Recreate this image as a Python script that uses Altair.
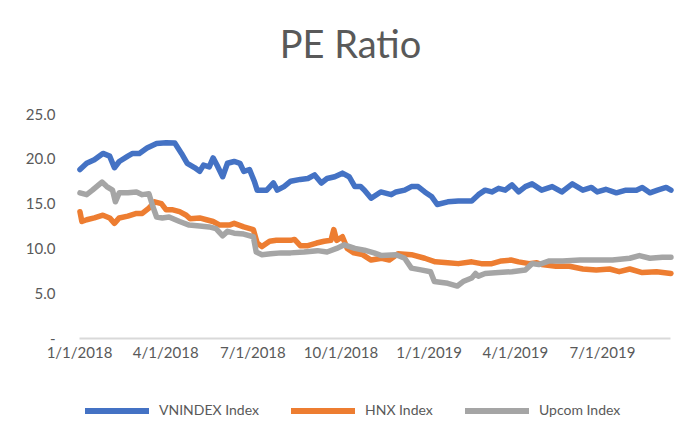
import altair as alt
import pandas as pd

series_names = ["VNINDEX Index", "HNX Index", "Upcom Index"]
series_colors = ["#4472C4", "#ED7D31", "#A5A5A5"]

vn_dates = ["2018-01-02","2018-01-09","2018-01-17","2018-01-26","2018-02-02","2018-02-07","2018-02-12","2018-02-21","2018-02-26","2018-03-05","2018-03-13","2018-03-23","2018-04-02","2018-04-11","2018-04-18","2018-04-24","2018-05-02","2018-05-07","2018-05-11","2018-05-17","2018-05-21","2018-05-25","2018-05-31","2018-06-05","2018-06-12","2018-06-18","2018-06-22","2018-06-28","2018-07-03","2018-07-06","2018-07-16","2018-07-23","2018-07-27","2018-08-03","2018-08-10","2018-08-20","2018-08-28","2018-09-04","2018-09-11","2018-09-17","2018-09-25","2018-10-03","2018-10-10","2018-10-16","2018-10-22","2018-10-26","2018-11-02","2018-11-12","2018-11-23","2018-11-28","2018-12-07","2018-12-14","2018-12-21","2018-12-28","2019-01-04","2019-01-10","2019-01-21","2019-02-01","2019-02-15","2019-02-22","2019-03-01","2019-03-08","2019-03-15","2019-03-22","2019-03-29","2019-04-05","2019-04-12","2019-04-19","2019-04-29","2019-05-10","2019-05-20","2019-05-31","2019-06-11","2019-06-20","2019-06-26","2019-07-05","2019-07-16","2019-07-26","2019-08-06","2019-08-12","2019-08-20","2019-08-28","2019-09-06","2019-09-11"]
vn_values = [18.8,19.5,19.9,20.6,20.3,19.0,19.7,20.3,20.6,20.6,21.2,21.7,21.8,21.75,20.6,19.5,19.0,18.6,19.3,19.1,20.1,19.3,18.0,19.5,19.7,19.5,18.6,18.8,17.5,16.5,16.5,17.3,16.5,16.9,17.5,17.7,17.8,18.2,17.3,17.8,18.0,18.4,18.0,16.9,16.9,16.5,15.6,16.3,16.0,16.3,16.5,16.9,16.9,16.3,15.8,14.9,15.2,15.3,15.3,16.0,16.5,16.3,16.7,16.5,17.1,16.3,16.9,17.2,16.5,16.9,16.3,17.2,16.5,16.8,16.3,16.6,16.2,16.5,16.5,16.8,16.2,16.5,16.8,16.5]

hnx_dates = ["2018-01-02","2018-01-04","2018-01-09","2018-01-17","2018-01-26","2018-02-02","2018-02-07","2018-02-12","2018-02-21","2018-03-02","2018-03-08","2018-03-15","2018-03-21","2018-03-28","2018-04-02","2018-04-09","2018-04-16","2018-04-23","2018-04-27","2018-05-07","2018-05-14","2018-05-21","2018-05-28","2018-06-01","2018-06-07","2018-06-12","2018-06-22","2018-07-02","2018-07-06","2018-07-11","2018-07-19","2018-07-26","2018-08-02","2018-08-10","2018-08-14","2018-08-20","2018-08-28","2018-09-06","2018-09-14","2018-09-21","2018-09-24","2018-09-27","2018-10-03","2018-10-08","2018-10-15","2018-10-24","2018-11-02","2018-11-13","2018-11-21","2018-11-30","2018-12-14","2018-12-28","2019-01-08","2019-01-21","2019-02-01","2019-02-15","2019-02-25","2019-03-08","2019-03-18","2019-03-28","2019-04-05","2019-04-16","2019-04-24","2019-04-29","2019-05-14","2019-05-28","2019-06-11","2019-06-25","2019-07-09","2019-07-19","2019-07-30","2019-08-12","2019-08-27","2019-09-11"]
hnx_values = [14.1,13.0,13.2,13.4,13.7,13.4,12.8,13.4,13.6,13.9,13.9,14.5,15.2,15.0,14.3,14.3,14.1,13.7,13.3,13.4,13.2,13.0,12.6,12.6,12.6,12.8,12.4,12.1,10.6,10.2,10.8,10.9,10.9,10.9,11.0,10.3,10.3,10.6,10.8,10.9,12.1,10.9,11.3,10.0,9.5,9.3,8.7,8.9,8.7,9.4,9.3,8.9,8.5,8.4,8.3,8.5,8.3,8.3,8.6,8.7,8.5,8.3,8.4,8.2,8.0,8.0,7.7,7.6,7.7,7.4,7.7,7.3,7.4,7.2]

up_dates = ["2018-01-02","2018-01-09","2018-01-15","2018-01-25","2018-01-30","2018-02-05","2018-02-08","2018-02-12","2018-02-21","2018-03-02","2018-03-08","2018-03-15","2018-03-19","2018-03-23","2018-03-29","2018-04-05","2018-04-16","2018-04-26","2018-05-07","2018-05-17","2018-05-24","2018-05-31","2018-06-05","2018-06-12","2018-06-22","2018-07-02","2018-07-05","2018-07-11","2018-07-20","2018-07-31","2018-08-10","2018-08-24","2018-09-07","2018-09-17","2018-09-27","2018-10-05","2018-10-16","2018-10-26","2018-11-05","2018-11-13","2018-11-28","2018-12-07","2018-12-14","2018-12-24","2019-01-03","2019-01-07","2019-01-21","2019-01-31","2019-02-06","2019-02-15","2019-02-19","2019-02-22","2019-03-01","2019-03-15","2019-03-29","2019-04-12","2019-04-19","2019-04-26","2019-05-07","2019-05-21","2019-06-08","2019-06-25","2019-07-12","2019-07-30","2019-08-09","2019-08-20","2019-09-02","2019-09-11"]
up_values = [16.2,16.0,16.5,17.4,16.9,16.5,15.2,16.2,16.2,16.3,16.0,16.1,14.7,13.5,13.4,13.5,13.0,12.6,12.5,12.4,12.2,11.4,11.9,11.7,11.6,11.3,9.6,9.3,9.4,9.5,9.5,9.6,9.75,9.6,10.0,10.4,10.0,9.8,9.5,9.2,9.3,8.9,7.8,7.6,7.4,6.3,6.1,5.8,6.3,6.7,7.2,6.9,7.2,7.3,7.4,7.6,8.3,8.2,8.6,8.6,8.7,8.7,8.7,8.9,9.2,8.9,9.0,9.0]

y_ticks = [0, 5, 10, 15, 20, 25]

rows = []
for order, (name, ds, vs) in enumerate(zip(series_names,
                                           [vn_dates, hnx_dates, up_dates],
                                           [vn_values, hnx_values, up_values])):
    for d, v in zip(ds, vs):
        rows.append({"date": d + "T00:00:00", "value": v, "series": name, "order": order})
df = pd.DataFrame(rows)

FONT = "Lato"
TXT = "#595959"

chart = alt.Chart(df).mark_line(strokeWidth=5.5, strokeJoin="round", strokeCap="round").encode(
    x=alt.X("date:T",
            scale=alt.Scale(domain=[alt.DateTime(year=2018, month=1, date=1),
                                    alt.DateTime(year=2019, month=9, date=10)]),
            axis=alt.Axis(title=None, format="%-m/%-d/%Y", grid=False, ticks=False,
                          domainColor="#D9D9D9", domainWidth=2,
                          labelFontSize=15, labelColor=TXT, labelFont=FONT,
                          labelPadding=7, labelOverlap=False, labelFlush=False, labelBound=False,
                          values=[alt.DateTime(year=2018, month=1, date=1),
                                  alt.DateTime(year=2018, month=4, date=1),
                                  alt.DateTime(year=2018, month=7, date=1),
                                  alt.DateTime(year=2018, month=10, date=1),
                                  alt.DateTime(year=2019, month=1, date=1),
                                  alt.DateTime(year=2019, month=4, date=1),
                                  alt.DateTime(year=2019, month=7, date=1)])),
    y=alt.Y("value:Q",
            scale=alt.Scale(domain=[0, 25], nice=False),
            axis=alt.Axis(title=None, grid=False, ticks=False, domain=False,
                          values=y_ticks,
                          labelExpr="datum.value == 0 ? '-\u00a0\u00a0\u00a0' : format(datum.value, '.1f')",
                          labelFontSize=15, labelColor=TXT, labelFont=FONT, labelPadding=24)),
    color=alt.Color("series:N",
                    scale=alt.Scale(domain=series_names, range=series_colors),
                    legend=alt.Legend(title=None, orient="none", direction="horizontal",
                                      legendX=3, legendY=262,
                                      symbolType="stroke", symbolSize=4096, symbolStrokeWidth=6,
                                      labelFontSize=14, labelColor=TXT, labelFont=FONT,
                                      labelOffset=7, columnPadding=20)),
    order=alt.Order("order:Q"),
    detail="series:N",
).properties(
    width=591,
    height=224,
    title=alt.TitleParams("PE Ratio", fontSize=38, font=FONT, color=TXT, fontWeight="normal",
                          anchor="middle", offset=41, dx=-24),
    padding={"left": 71, "top": 106, "right": 20, "bottom": 85},
    autosize=alt.AutoSizeParams(type="none"),
).configure_view(stroke=None)

chart.save("out.html", embed_options={"renderer": "svg", "actions": False})
